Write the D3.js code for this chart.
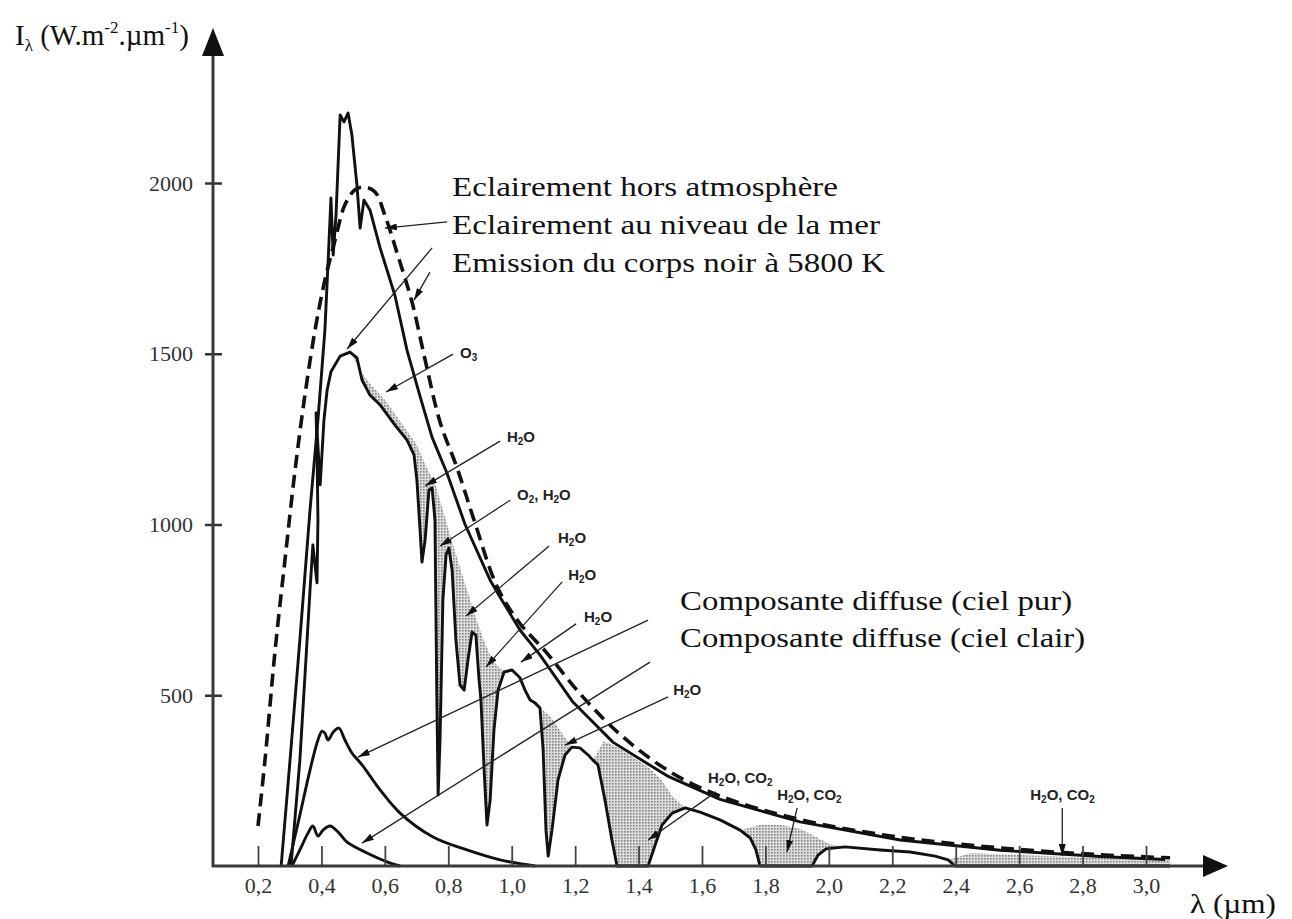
<!DOCTYPE html>
<html><head><meta charset="utf-8">
<script src="https://cdn.jsdelivr.net/npm/d3@7"></script>
<style>
html,body{margin:0;padding:0;background:#fff;}
svg{display:block;}
</style></head><body>
<svg id="c" width="1292" height="919"></svg>
<script>
// ---------- data (λ in µm, I in W.m-2.µm-1) ----------
const xTicks = [0.2,0.4,0.6,0.8,1.0,1.2,1.4,1.6,1.8,2.0,2.2,2.4,2.6,2.8,3.0];
const yTicks = [500,1000,1500,2000];

const blackBody = [[0.200,117],[0.222,310],[0.254,632],[0.285,896],[0.317,1160],[0.348,1379],[0.380,1570],[0.411,1716],[0.443,1833],[0.474,1936],[0.506,1980],[0.537,1988],[0.569,1974],[0.600,1906],[0.642,1785],[0.686,1650],[0.727,1482],[0.774,1300],[0.828,1165],[0.884,1005],[0.954,818],[1.026,710],[1.105,630],[1.215,505],[1.342,385],[1.499,276],[1.657,205],[1.909,136],[2.225,84],[2.540,53],[2.855,33],[3.076,24]];

const extraterrestrial = [[0.273,0],[0.301,310],[0.332,662],[0.364,1042],[0.389,1306],[0.411,1570],[0.421,1769],[0.430,1956],[0.437,1789],[0.446,1906],[0.459,2199],[0.471,2179],[0.484,2205],[0.496,2141],[0.512,1994],[0.522,1868],[0.534,1950],[0.553,1921],[0.585,1810],[0.632,1670],[0.670,1510],[0.711,1375],[0.749,1255],[0.796,1150],[0.853,1000],[0.932,837],[0.963,788],[1.026,691],[1.089,618],[1.193,480],[1.320,362],[1.490,264],[1.657,195],[1.909,129],[2.225,76],[2.540,46],[2.855,28],[3.060,19]];

const seaLevel = [[0.304,0],[0.332,310],[0.351,603],[0.364,808],[0.373,940],[0.386,829],[0.389,1013],[0.386,1218],[0.383,1327],[0.396,1116],[0.408,1306],[0.418,1394],[0.430,1447],[0.459,1493],[0.490,1505],[0.512,1488],[0.528,1423],[0.553,1379],[0.585,1350],[0.632,1291],[0.670,1247],[0.692,1204],[0.701,1130],[0.711,984],[0.717,890],[0.727,955],[0.739,1101],[0.749,1107],[0.758,1013],[0.764,486],[0.768,208],[0.774,369],[0.783,779],[0.793,911],[0.802,931],[0.812,867],[0.824,662],[0.837,530],[0.850,515],[0.862,603],[0.875,685],[0.887,676],[0.897,545],[0.903,486],[0.913,281],[0.922,120],[0.932,193],[0.944,398],[0.957,515],[0.976,568],[1.001,574],[1.026,551],[1.042,515],[1.058,486],[1.074,477],[1.089,463],[1.099,340],[1.108,105],[1.115,29],[1.127,105],[1.146,252],[1.168,325],[1.190,348],[1.215,346],[1.241,325],[1.256,310],[1.272,296],[1.294,193],[1.316,76],[1.332,0],[1.430,0],[1.452,61],[1.474,120],[1.506,155],[1.547,170],[1.594,158],[1.657,135],[1.720,105],[1.752,82],[1.770,47],[1.783,0],[1.947,0],[1.966,32],[1.991,50],[2.051,56],[2.162,47],[2.256,41],[2.335,29],[2.376,18],[2.398,0],[3.076,0]];

const diffusePur = [[0.295,0],[0.332,149],[0.364,281],[0.389,369],[0.402,395],[0.411,389],[0.421,369],[0.437,392],[0.455,404],[0.474,369],[0.496,331],[0.528,296],[0.585,223],[0.648,155],[0.752,85],[0.859,47],[0.963,18],[1.074,0]];

const diffuseClair = [[0.307,0],[0.332,47],[0.358,97],[0.373,117],[0.389,88],[0.405,105],[0.427,117],[0.452,100],[0.481,70],[0.544,38],[0.607,12],[0.648,0]];

// upper edges of the shaded absorption bands
const bandO3H2O = [[0.490,1505],[0.53,1440],[0.56,1405],[0.60,1365],[0.65,1300],[0.70,1235],[0.73,1170],[0.76,1115],[0.79,1020],[0.82,925],[0.85,835],[0.88,745],[0.91,665],[0.94,600],[0.976,568]];
const bandH2O_11 = [[1.089,463],[1.12,440],[1.15,400],[1.190,348]];
const bandH2O_14 = [[1.256,310],[1.29,365],[1.33,350],[1.38,320],[1.43,290],[1.47,255],[1.506,205],[1.547,170]];
const bandH2O_19 = [[1.720,105],[1.78,120],[1.85,120],[1.91,108],[1.96,85],[2.00,65],[2.051,56]];
const bandH2O_27 = [[2.376,18],[2.45,38],[2.6,32],[2.8,25],[3.0,20],[3.076,18]];

const curveLabels = [
  {text:"Eclairement hors atmosphère", l:0.812, v:1962, w:386},
  {text:"Eclairement au niveau de la mer", l:0.812, v:1851, w:428},
  {text:"Emission du corps noir à 5800 K", l:0.812, v:1739, w:433},
  {text:"Composante diffuse (ciel pur)", l:1.531, v:750, w:392},
  {text:"Composante diffuse (ciel clair)", l:1.531, v:641, w:405}
];
const gasLabels = [
  {text:"O{3}", l:0.837, v:1488},
  {text:"H{2}O", l:0.985, v:1241},
  {text:"O{2}, H{2}O", l:1.017, v:1071},
  {text:"H{2}O", l:1.146, v:946},
  {text:"H{2}O", l:1.178, v:837},
  {text:"H{2}O", l:1.228, v:714},
  {text:"H{2}O", l:1.509, v:501},
  {text:"H{2}O, CO{2}", l:1.619, v:243},
  {text:"H{2}O, CO{2}", l:1.837, v:193},
  {text:"H{2}O, CO{2}", l:2.635, v:193}
];
// leader lines: [λ from, I from, λ to, I to]
const leaders = [
  [0.796,1886,0.600,1868],
  [0.749,1810,0.481,1514],
  [0.742,1739,0.692,1657],
  [0.815,1499,0.604,1388],
  [0.963,1244,0.727,1113],
  [0.995,1071,0.774,937],
  [1.118,937,0.856,732],
  [1.159,832,0.919,583],
  [1.203,709,1.029,597],
  [1.493,495,1.168,354],
  [1.430,720,0.515,319],
  [1.436,597,0.528,67],
  [1.644,217,1.430,76],
  [1.900,170,1.868,41],
  [2.736,170,2.736,29]
];

// ---------- drawing ----------
const svg = d3.select("#c");
const x = d3.scaleLinear().domain([0.2,3.0]).range([258,1146]);
const y = d3.scaleLinear().domain([0,2000]).range([866,183]);
const serif = "Liberation Serif, Times New Roman, serif";
const sans = "Liberation Sans Narrow, Liberation Sans, Arial, sans-serif";

const defs = svg.append("defs");
const pat = defs.append("pattern").attr("id","dots").attr("patternUnits","userSpaceOnUse")
  .attr("width",3).attr("height",3);
pat.append("rect").attr("width",3).attr("height",3).attr("fill","#dcdcdc");
pat.append("rect").attr("width",1.6).attr("height",1.6).attr("fill","#858585");
defs.append("marker").attr("id","ah").attr("viewBox","0 0 10 10").attr("refX",10).attr("refY",5)
  .attr("markerWidth",12).attr("markerHeight",7).attr("markerUnits","userSpaceOnUse")
  .attr("orient","auto").attr("preserveAspectRatio","none")
  .append("path").attr("d","M0,0L10,5L0,10z").attr("fill","#111");

// shaded bands
const poly = d3.line().x(d=>x(d[0])).y(d=>y(d[1]));
[bandO3H2O,bandH2O_11,bandH2O_14,bandH2O_19,bandH2O_27].forEach(top=>{
  const a = top[0][0], b = top[top.length-1][0];
  const bottom = seaLevel.filter(d=>d[0]>=a-1e-9 && d[0]<=b+1e-9).slice().reverse();
  svg.append("path").attr("d", poly(top.concat(bottom))+"Z")
    .attr("fill","url(#dots)").attr("stroke","none");
});

const lin = d3.line().x(d=>x(d[0])).y(d=>y(d[1]));
const smooth = d3.line().x(d=>x(d[0])).y(d=>y(d[1])).curve(d3.curveCatmullRom.alpha(0.5));

function curve(data, gen, dash, w){
  svg.append("path").attr("d",gen(data)).attr("fill","none").attr("stroke","#111")
    .attr("stroke-width",w).attr("stroke-linejoin","round").attr("stroke-linecap","butt")
    .attr("stroke-dasharray",dash||null);
}
curve(diffuseClair, smooth, null, 2.9);
curve(diffusePur, smooth, null, 2.9);
curve(seaLevel, lin, null, 2.9);
curve(extraterrestrial, lin, null, 2.9);
curve(blackBody, smooth, "13,7", 3.6);

// leaders
svg.append("g").selectAll("line").data(leaders).join("line")
  .attr("x1",d=>x(d[0])).attr("y1",d=>y(d[1])).attr("x2",d=>x(d[2])).attr("y2",d=>y(d[3]))
  .attr("stroke","#222").attr("stroke-width",1.3).attr("marker-end","url(#ah)");

// axes
const ax = svg.append("g").attr("transform","translate(0,866)")
  .call(d3.axisBottom(x).tickValues(xTicks).tickSizeInner(-20).tickSizeOuter(0).tickPadding(11)
    .tickFormat(d=>d.toFixed(1).replace(".",",")));
ax.select(".domain").remove();
ax.selectAll(".tick line").attr("stroke","#444").attr("stroke-width",1.8);
ax.selectAll(".tick text").attr("font-family",serif).attr("font-size",22).attr("fill","#333");

const ay = svg.append("g").attr("transform","translate(213,0)")
  .call(d3.axisLeft(y).tickValues(yTicks).tickSizeInner(8).tickSizeOuter(0).tickPadding(12)
    .tickFormat(d3.format("d")));
ay.select(".domain").remove();
ay.selectAll(".tick line").attr("x1",9).attr("stroke","#333").attr("stroke-width",2.5);
ay.selectAll(".tick text").attr("font-family",serif).attr("font-size",22).attr("fill","#333");

svg.append("line").attr("x1",213).attr("y1",867).attr("x2",213).attr("y2",52)
  .attr("stroke","#3a3a3a").attr("stroke-width",3);
svg.append("path").attr("d","M213,28L202,56L224,56Z").attr("fill","#111");
svg.append("line").attr("x1",212).attr("y1",866).attr("x2",1206).attr("y2",866)
  .attr("stroke","#3a3a3a").attr("stroke-width",3.2);
svg.append("path").attr("d","M1228,866L1203,855L1203,877Z").attr("fill","#111");

// axis titles
const yt = svg.append("text").attr("x",15).attr("y",45).attr("font-family",serif)
  .attr("font-size",29).attr("fill","#111");
yt.append("tspan").text("I");
yt.append("tspan").attr("font-size",17).attr("dy",6).text("λ");
yt.append("tspan").attr("dy",-6).text(" (W.m");
yt.append("tspan").attr("font-size",17).attr("dy",-12).text("-2");
yt.append("tspan").attr("dy",12).text(".µm");
yt.append("tspan").attr("font-size",17).attr("dy",-12).text("-1");
yt.append("tspan").attr("dy",12).text(")");
svg.append("text").attr("x",1190).attr("y",913).attr("font-family",serif)
  .attr("font-size",28).attr("fill","#111").attr("textLength",86).attr("lengthAdjust","spacingAndGlyphs")
  .text("λ (µm)");

// curve labels
svg.append("g").selectAll("text").data(curveLabels).join("text")
  .attr("x",d=>x(d.l)).attr("y",d=>y(d.v)).attr("font-family",serif).attr("font-size",27)
  .attr("fill","#111").attr("textLength",d=>d.w).attr("lengthAdjust","spacingAndGlyphs")
  .text(d=>d.text);

// gas labels with subscripts
gasLabels.forEach(g=>{
  const t = svg.append("text").attr("x",x(g.l)).attr("y",y(g.v)).attr("font-family",sans)
    .attr("font-size",15).attr("font-weight","bold").attr("fill","#222");
  const parts = g.text.split(/(\{\d\})/).filter(s=>s.length);
  let sub=false;
  parts.forEach(p=>{
    if(p[0]==="{"){
      t.append("tspan").attr("font-size",10).attr("dy",sub?0:3).text(p.slice(1,-1)); sub=true;
    } else {
      t.append("tspan").attr("dy",sub?-3:0).text(p); sub=false;
    }
  });
});
</script>
</body></html>
